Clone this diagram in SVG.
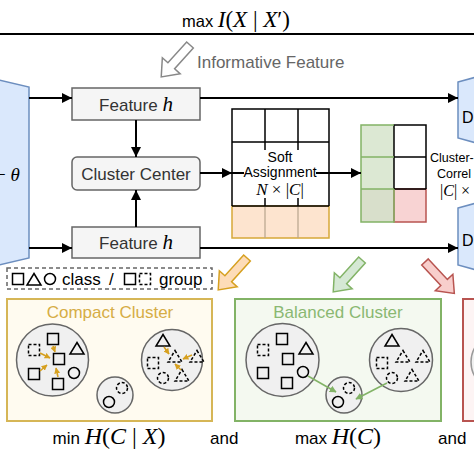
<svg xmlns="http://www.w3.org/2000/svg" width="474" height="474" viewBox="0 0 474 474">
<style>
.sans{font-family:"Liberation Sans",Arial,sans-serif}
.mi{font-family:"Liberation Serif","DejaVu Serif",serif;font-style:italic}
.mu{font-family:"Liberation Serif","DejaVu Serif",serif;font-style:normal}
.box{fill:#f5f5f5;stroke:#666;stroke-width:1.5}
.conn{stroke:#000;stroke-width:2;fill:none}
.enc{fill:#dae8fc;stroke:#6c8ebf;stroke-width:1.5}
.big{fill:#f0f0f0;stroke:#666;stroke-width:1.5}
.s{fill:none;stroke:#000;stroke-width:1.5}
.d{fill:none;stroke:#000;stroke-width:1.5;stroke-dasharray:3,2}
.oa{stroke:#d6a020;stroke-width:1.6;fill:none}
.ga{stroke:#82b366;stroke-width:1.6;fill:none}
</style>
<defs>
<marker id="ah" viewBox="0 0 10 10" refX="10" refY="5" markerWidth="11" markerHeight="10" markerUnits="userSpaceOnUse" orient="auto"><path d="M0,0 L10,5 L0,10 Z" fill="#000"/></marker>
<marker id="oh" viewBox="0 0 10 10" refX="9" refY="5" markerWidth="6" markerHeight="6" markerUnits="userSpaceOnUse" orient="auto"><path d="M0,0 L10,5 L0,10 Z" fill="#d6a020"/></marker>
<marker id="gh" viewBox="0 0 10 10" refX="9" refY="5" markerWidth="7" markerHeight="7" markerUnits="userSpaceOnUse" orient="auto"><path d="M0,0 L10,5 L0,10 Z" fill="#82b366"/></marker>
<path id="fat" d="M0,-4.5 L28,-4.5 L28,-12 L43,0 L28,12 L28,4.5 L0,4.5 Z"/>
<rect id="sq" x="-5.5" y="-5.5" width="11" height="11" class="s"/>
<rect id="dsq" x="-5.5" y="-5.5" width="11" height="11" class="d"/>
<path id="tri" d="M0,-6.5 L7,5 L-7,5 Z" class="s"/>
<path id="dtri" d="M0,-6.5 L7,5 L-7,5 Z" class="d"/>
<circle id="ci" r="5.5" class="s"/>
<circle id="dci" r="5.5" class="d"/>
</defs>
<rect width="474" height="474" fill="#fff"/>

<g id="title">
<text x="236" y="27" text-anchor="middle"><tspan class="sans" font-size="16.5">max </tspan><tspan class="mi" font-size="23">I</tspan><tspan class="mu" font-size="23">(</tspan><tspan class="mi" font-size="23">X</tspan><tspan class="mu" font-size="23"> | </tspan><tspan class="mi" font-size="23">X</tspan><tspan class="mu" font-size="23">′)</tspan></text>
<line x1="0" y1="34" x2="474" y2="34" stroke="#000" stroke-width="2"/>
</g>

<g id="informative">
<use href="#fat" transform="translate(190,45) rotate(132)" fill="#fff" stroke="#888" stroke-width="1.5"/>
<text x="197" y="68" class="sans" font-size="17" fill="#666">Informative Feature</text>
</g>

<g id="encoder">
<polygon points="-10,78 29,87 29,258 -10,267" class="enc"/>
<text x="-5" y="181" font-size="19"><tspan class="mu">− </tspan><tspan class="mi">θ</tspan></text>
</g>

<g id="decoder-top">
<polygon points="458,82 480,76 480,144 458,138" class="enc"/>
<text x="462" y="123" class="sans" font-size="16">D</text>
</g>
<g id="decoder-bottom">
<polygon points="458,208 480,202 480,271 458,265" class="enc"/>
<text x="462" y="246" class="sans" font-size="16">D</text>
</g>

<g id="feature-top">
<rect x="72" y="88" width="128" height="32" class="box"/>
<text x="136" y="110.5" text-anchor="middle"><tspan class="sans" font-size="17" fill="#333">Feature </tspan><tspan class="mi" font-size="21">h</tspan></text>
</g>
<g id="cluster-center">
<rect x="72" y="157" width="128" height="33" rx="5" class="box"/>
<text x="136" y="179.5" text-anchor="middle" class="sans" font-size="17" fill="#333">Cluster Center</text>
</g>
<g id="feature-bottom">
<rect x="72" y="227" width="128" height="31" class="box"/>
<text x="136" y="249" text-anchor="middle"><tspan class="sans" font-size="17" fill="#333">Feature </tspan><tspan class="mi" font-size="21">h</tspan></text>
</g>

<g id="soft-assignment">
<rect x="232" y="206" width="97" height="32" fill="#fde4cf" stroke="#d6a838" stroke-width="1.5"/>
<line x1="265" y1="206" x2="265" y2="238" stroke="#b8a48c" stroke-width="1.2"/>
<line x1="298" y1="206" x2="298" y2="238" stroke="#b8a48c" stroke-width="1.2"/>
<path d="M232,206 L232,109 L329,109 L329,206 M232,142 L329,142 M232,206 L329,206 M265,109 L265,150 M298,109 L298,150 M265,198 L265,206 M298,198 L298,206" fill="none" stroke="#000" stroke-width="1.5"/>
<text x="280" y="162" text-anchor="middle" class="sans" font-size="14">Soft</text>
<text x="280" y="177" text-anchor="middle" class="sans" font-size="14">Assignment</text>
<text x="280" y="195" text-anchor="middle" font-size="17"><tspan class="mi">N</tspan><tspan class="mu"> × |</tspan><tspan class="mi">C</tspan><tspan class="mu">|</tspan></text>
</g>

<g id="correlation">
<rect x="361" y="125" width="33" height="64" fill="#dce8d3"/>
<rect x="361" y="189" width="33" height="33" fill="#d8dfcb"/>
<rect x="394" y="189" width="32" height="33" fill="#f8d3d3" stroke="#b85450" stroke-width="1.5"/>
<path d="M394,189 L394,125 L426,125 L426,189 M394,157 L426,157 M394,189 L426,189" fill="none" stroke="#000" stroke-width="1.5"/>
<path d="M394,125 L361,125 L361,222 L394,222 L394,189 M361,157 L394,157 M361,189 L394,189" fill="none" stroke="#82b366" stroke-width="1.5"/>
<text x="430" y="162" class="sans" font-size="12.5">Cluster-</text>
<text x="437" y="178" class="sans" font-size="12.5">Correl</text>
<text x="440" y="196" font-size="16"><tspan class="mu">|</tspan><tspan class="mi">C</tspan><tspan class="mu">| ×</tspan></text>
</g>

<g id="connectors">
<line x1="29" y1="98" x2="72" y2="98" class="conn" marker-end="url(#ah)"/>
<line x1="200" y1="98" x2="458" y2="98" class="conn" marker-end="url(#ah)"/>
<line x1="29" y1="248" x2="72" y2="248" class="conn" marker-end="url(#ah)"/>
<line x1="200" y1="248" x2="458" y2="248" class="conn" marker-end="url(#ah)"/>
<line x1="136" y1="120" x2="136" y2="157" class="conn" marker-end="url(#ah)"/>
<line x1="136" y1="227" x2="136" y2="190" class="conn" marker-end="url(#ah)"/>
<line x1="200" y1="173" x2="232" y2="173" class="conn" marker-end="url(#ah)"/>
<line x1="232" y1="173" x2="244" y2="173" class="conn"/>
<line x1="316" y1="173" x2="361" y2="173" class="conn" marker-end="url(#ah)"/>
</g>

<g id="legend">
<rect x="7" y="268" width="205" height="21" fill="none" stroke="#666" stroke-width="1.5" stroke-dasharray="4,3"/>
<use href="#sq" x="18" y="279"/>
<use href="#tri" x="34" y="280"/>
<use href="#ci" x="50" y="279"/>
<text x="62" y="285" class="sans" font-size="17">class</text>
<text x="109" y="285" class="sans" font-size="17">/</text>
<use href="#sq" x="130" y="279"/>
<use href="#dsq" x="145" y="279"/>
<text x="159" y="285" class="sans" font-size="17">group</text>
</g>

<g id="fat-arrows">
<use href="#fat" transform="translate(247,258) rotate(132)" fill="#fddcb8" stroke="#d6a020" stroke-width="1.5"/>
<use href="#fat" transform="translate(362,260) rotate(132)" fill="#d5e8d4" stroke="#82b366" stroke-width="1.5"/>
<use href="#fat" transform="translate(425,262) rotate(47)" fill="#f8cecc" stroke="#b85450" stroke-width="1.5"/>
</g>

<g id="compact-cluster">
<rect x="7" y="299" width="205" height="122" fill="#fffbf0" stroke="#d6b656" stroke-width="2"/>
<text x="110" y="318" text-anchor="middle" class="sans" font-size="17" fill="#d6ad45">Compact Cluster</text>
<circle cx="52.5" cy="360" r="36" class="big"/>
<use href="#dsq" x="34" y="350"/>
<use href="#sq" x="53" y="339"/>
<use href="#tri" x="77" y="349"/>
<use href="#sq" x="59" y="359"/>
<use href="#ci" x="74" y="373"/>
<use href="#sq" x="34" y="374"/>
<use href="#sq" x="58" y="384"/>
<line x1="40" y1="353" x2="50" y2="358" class="oa" marker-end="url(#oh)"/>
<line x1="53" y1="346" x2="55" y2="352" class="oa" marker-end="url(#oh)"/>
<line x1="40" y1="371" x2="47" y2="365" class="oa" marker-end="url(#oh)"/>
<line x1="58" y1="377" x2="56" y2="368" class="oa" marker-end="url(#oh)"/>
<circle cx="115" cy="395" r="18" class="big"/>
<use href="#ci" x="109" y="402"/>
<use href="#dci" x="122" y="388"/>
<circle cx="172" cy="360" r="30.5" class="big"/>
<use href="#tri" x="163" y="341"/>
<use href="#dtri" x="175" y="357"/>
<use href="#dtri" x="197" y="357"/>
<use href="#dtri" x="182" y="376"/>
<use href="#dsq" x="153" y="363"/>
<use href="#dci" x="163" y="378"/>
<line x1="164" y1="347" x2="169" y2="354" class="oa" marker-end="url(#oh)"/>
<line x1="192" y1="355" x2="183" y2="359" class="oa" marker-end="url(#oh)"/>
<line x1="181" y1="370" x2="175" y2="364" class="oa" marker-end="url(#oh)"/>
</g>

<g id="balanced-cluster">
<rect x="235" y="299" width="206" height="122" fill="#f4f9f0" stroke="#82b366" stroke-width="2"/>
<text x="338" y="318" text-anchor="middle" class="sans" font-size="17" fill="#8ab872">Balanced Cluster</text>
<circle cx="282.5" cy="360" r="36.5" class="big"/>
<use href="#dsq" x="263" y="350"/>
<use href="#sq" x="282" y="339"/>
<use href="#tri" x="306" y="349"/>
<use href="#sq" x="288" y="359"/>
<use href="#ci" x="303" y="372"/>
<use href="#sq" x="263" y="373"/>
<use href="#sq" x="287" y="383"/>
<circle cx="344" cy="395" r="18" class="big"/>
<use href="#ci" x="338" y="402"/>
<use href="#dci" x="349" y="388"/>
<circle cx="401" cy="360" r="31.5" class="big"/>
<use href="#tri" x="392" y="341"/>
<use href="#dsq" x="382" y="363"/>
<use href="#dtri" x="403" y="357"/>
<use href="#dtri" x="423" y="357"/>
<use href="#dtri" x="412" y="376"/>
<use href="#dci" x="392" y="378"/>
<line x1="308" y1="376" x2="336" y2="392" class="ga" marker-end="url(#gh)"/>
<line x1="387" y1="383" x2="356" y2="399" class="ga" marker-end="url(#gh)"/>
</g>

<g id="third-cluster">
<rect x="463" y="299" width="40" height="122" fill="#fdf4f4" stroke="#b85450" stroke-width="2"/>
<circle cx="500" cy="362" r="29" fill="#f0f0f0" stroke="#999" stroke-width="1.5"/>
</g>

<g id="objectives">
<text x="109" y="444" text-anchor="middle"><tspan class="sans" font-size="17">min </tspan><tspan class="mi" font-size="24">H</tspan><tspan class="mu" font-size="24">(</tspan><tspan class="mi" font-size="24">C</tspan><tspan class="mu" font-size="24"> | </tspan><tspan class="mi" font-size="24">X</tspan><tspan class="mu" font-size="24">)</tspan></text>
<text x="210" y="444" class="sans" font-size="17">and</text>
<text x="338" y="444" text-anchor="middle"><tspan class="sans" font-size="17">max </tspan><tspan class="mi" font-size="24">H</tspan><tspan class="mu" font-size="24">(</tspan><tspan class="mi" font-size="24">C</tspan><tspan class="mu" font-size="24">)</tspan></text>
<text x="438" y="444" class="sans" font-size="17">and</text>
</g>
</svg>
